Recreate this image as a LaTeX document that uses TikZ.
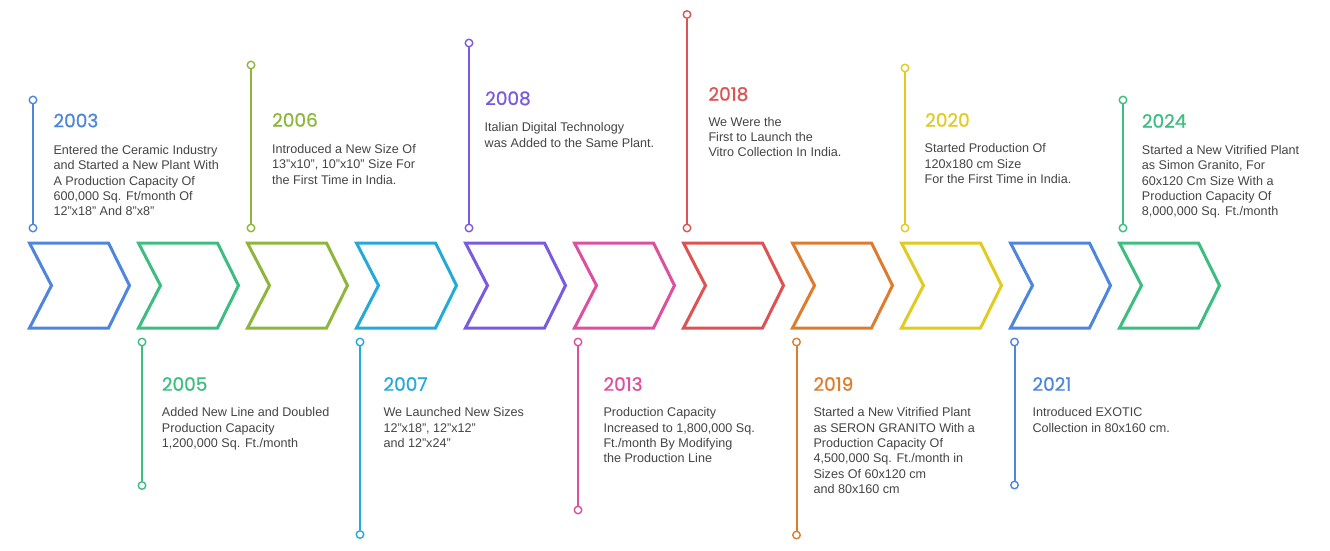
\documentclass[tikz,border=0pt]{standalone}
\usepackage{fontspec}
\setmainfont{Liberation Sans}
\newfontfamily\yearfont[FakeBold=0.8]{Poppins}
\definecolor{cblue}{HTML}{4D86DC}
\definecolor{cgreen}{HTML}{3DBE80}
\definecolor{colive}{HTML}{8FB63C}
\definecolor{ccyan}{HTML}{25A9D8}
\definecolor{cpurple}{HTML}{7A5AE0}
\definecolor{cpink}{HTML}{DC509F}
\definecolor{cred}{HTML}{DF5252}
\definecolor{corange}{HTML}{DE7C2E}
\definecolor{cyellow}{HTML}{E1CB1F}
\definecolor{textgray}{HTML}{444444}
\newcommand\chevronshape[2]{\draw[chev,#2] (#1,243) -- ++(79,0) -- ++(21,42.5) -- ++(-21,42.5) -- ++(-79,0) -- ++(22,-42.5) -- cycle;}
\begin{document}
\begin{tikzpicture}[x=1pt,y=-1pt,
  chev/.style={line width=3pt, line join=miter},
  dotend/.style={circle, draw, fill=white, line width=1.4pt, inner sep=0pt, minimum size=7.5pt},
  stem/.style={line width=2pt},
  yr/.style={anchor=base west, inner sep=0pt, font=\yearfont\fontsize{18.5}{20}\selectfont},
  body/.style={anchor=north west, inner sep=0pt, align=left, text=textgray, font=\fontsize{12.6}{15.3}\selectfont}]
\useasboundingbox (0,0) rectangle (1330,550);

% chevrons
\chevronshape{29.5}{cblue}
\chevronshape{138.5}{cgreen}
\chevronshape{247.5}{colive}
\chevronshape{356.5}{ccyan}
\chevronshape{465.5}{cpurple}
\chevronshape{574.5}{cpink}
\chevronshape{683.5}{cred}
\chevronshape{792.5}{corange}
\chevronshape{901.5}{cyellow}
\chevronshape{1010.5}{cblue}
\chevronshape{1119.5}{cgreen}

% pins top
\node[dotend,draw=cblue] (t1) at (33,100) {};
\node[dotend,draw=cblue] (b1) at (33,228) {};
\draw[stem,cblue] (t1) -- (b1);
\node[dotend,draw=colive] (t3) at (251,65) {};
\node[dotend,draw=colive] (b3) at (251,228) {};
\draw[stem,colive] (t3) -- (b3);
\node[dotend,draw=cpurple] (t5) at (469,43) {};
\node[dotend,draw=cpurple] (b5) at (469,228) {};
\draw[stem,cpurple] (t5) -- (b5);
\node[dotend,draw=cred] (t7) at (687,14.5) {};
\node[dotend,draw=cred] (b7) at (687,228) {};
\draw[stem,cred] (t7) -- (b7);
\node[dotend,draw=cyellow] (t9) at (905,68) {};
\node[dotend,draw=cyellow] (b9) at (905,228) {};
\draw[stem,cyellow] (t9) -- (b9);
\node[dotend,draw=cgreen] (t11) at (1123,100) {};
\node[dotend,draw=cgreen] (b11) at (1123,228) {};
\draw[stem,cgreen] (t11) -- (b11);

% pins bottom
\node[dotend,draw=cgreen] (t2) at (142,342) {};
\node[dotend,draw=cgreen] (b2) at (142,485.5) {};
\draw[stem,cgreen] (t2) -- (b2);
\node[dotend,draw=ccyan] (t4) at (360,342) {};
\node[dotend,draw=ccyan] (b4) at (360,534.5) {};
\draw[stem,ccyan] (t4) -- (b4);
\node[dotend,draw=cpink] (t6) at (578,342) {};
\node[dotend,draw=cpink] (b6) at (578,510) {};
\draw[stem,cpink] (t6) -- (b6);
\node[dotend,draw=corange] (t8) at (796.5,342) {};
\node[dotend,draw=corange] (b8) at (796.5,535) {};
\draw[stem,corange] (t8) -- (b8);
\node[dotend,draw=cblue] (t10) at (1014.5,342) {};
\node[dotend,draw=cblue] (b10) at (1014.5,485) {};
\draw[stem,cblue] (t10) -- (b10);

% texts top
\node[yr,text=cblue] (y1) at (53.3,127.3) {2003};
\node[body] (d1) at (53.3,145.1) {Entered the Ceramic Industry\\and Started a New Plant With\\A Production Capacity Of\\600,000 Sq. Ft/month Of\\12"x18" And 8"x8"};
\node[yr,text=colive] (y3) at (272,126.7) {2006};
\node[body] (d3) at (272,144.1) {Introduced a New Size Of\\13"x10", 10"x10" Size For\\the First Time in India.};
\node[yr,text=cpurple] (y5) at (485,105) {2008};
\node[body] (d5) at (484.5,122.5) {Italian Digital Technology\\was Added to the Same Plant.};
\node[yr,text=cred] (y7) at (708.3,100.7) {2018};
\node[body] (d7) at (708.3,116.8) {We Were the\\First to Launch the\\Vitro Collection In India.};
\node[yr,text=cyellow] (y9) at (925,126.7) {2020};
\node[body] (d9) at (924.5,143.5) {Started Production Of\\120x180 cm Size\\For the First Time in India.};
\node[yr,text=cgreen] (y11) at (1141.7,127.7) {2024};
\node[body] (d11) at (1141.7,145.1) {Started a New Vitrified Plant\\as Simon Granito, For\\60x120 Cm Size With a\\Production Capacity Of\\8,000,000 Sq. Ft./month};

% texts bottom
\node[yr,text=cgreen] (y2) at (161.7,390.8) {2005};
\node[body] (d2) at (161.7,407.5) {Added New Line and Doubled\\Production Capacity\\1,200,000 Sq. Ft./month};
\node[yr,text=ccyan] (y4) at (383.3,390.8) {2007};
\node[body] (d4) at (383.3,407.5) {We Launched New Sizes\\12"x18", 12"x12"\\and 12"x24"};
\node[yr,text=cpink] (y6) at (603.3,390.8) {2013};
\node[body] (d6) at (603.3,407.5) {Production Capacity\\Increased to 1,800,000 Sq.\\Ft./month By Modifying\\the Production Line};
\node[yr,text=corange] (y8) at (813.3,390.8) {2019};
\node[body] (d8) at (813.3,407.5) {Started a New Vitrified Plant\\as SERON GRANITO With a\\Production Capacity Of\\4,500,000 Sq. Ft./month in\\Sizes Of 60x120 cm\\and 80x160 cm};
\node[yr,text=cblue] (y10) at (1032.3,390.8) {2021};
\node[body] (d10) at (1032.3,407.5) {Introduced EXOTIC\\Collection in 80x160 cm.};
\end{tikzpicture}
\end{document}
